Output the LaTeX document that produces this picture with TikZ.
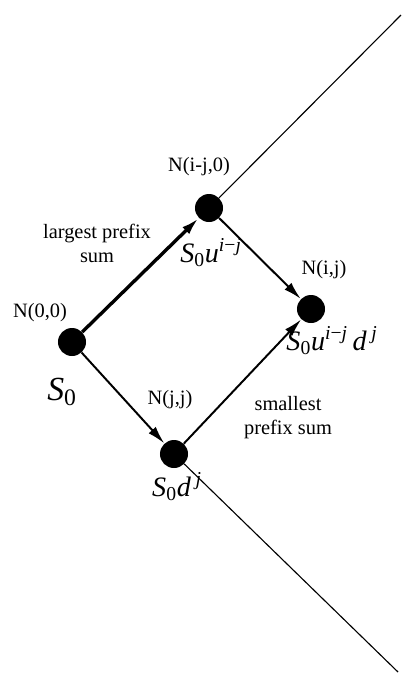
\documentclass[tikz,border=0pt]{standalone}
\usepackage{fontspec}
\setmainfont{Liberation Serif}
\usetikzlibrary{arrows.meta, positioning}

\newcommand{\mvar}[1]{\textit{#1}}

\begin{document}
\begin{tikzpicture}[
    x=0.025cm, y=-0.025cm,
    state/.style={
        circle,
        fill=black,
        minimum size=0.7cm,
        inner sep=0pt
    },
    nlabel/.style={
        font=\fontsize{14.5}{17}\selectfont,
        inner sep=0pt
    },
    vlabel/.style={
        font=\fontsize{20}{24}\selectfont,
        inner sep=0pt
    },
    note/.style={
        font=\fontsize{14.5}{17}\selectfont,
        align=center,
        inner sep=0pt
    },
    arrow/.style={
        -{Latex[length=0.45cm, width=0.24cm]},
        line width=1.4pt
    },
    mainarrow/.style={
        arrow,
        line width=2.4pt
    },
    boundary/.style={
        line width=0.8pt
    }
]
\useasboundingbox (0,0) rectangle (402,679);

% States of the lattice
\node[state] (n00) at (72,342) {};
\node[state] (nu) at (209,208) {};
\node[state] (nij) at (311,309) {};
\node[state] (njj) at (174,454) {};

% Node names
\node[nlabel] (n00name) at (40,313) {N(0,0)};
\node[nlabel] (nuname) at (199,167) {N(i-j,0)};
\node[nlabel] (nijname) at (324,270) {N(i,j)};
\node[nlabel] (njjname) at (170,400) {N(j,j)};

% Prices
\node[vlabel, font=\fontsize{24}{28}\selectfont] (n00val) at (62,392) {\mvar{S}\textsubscript{0}};
\node[vlabel] (nuval) at (211,253) {\mvar{S}\textsubscript{0}\mvar{u}\textsuperscript{\mvar{i}−\mvar{j}}};
\node[vlabel] (nijval) at (332,341) {\mvar{S}\textsubscript{0}\mvar{u}\textsuperscript{\mvar{i}−\mvar{j}}\,\mvar{d}\,\textsuperscript{\mvar{j}}};
\node[vlabel] (njjval) at (177,487) {\mvar{S}\textsubscript{0}\mvar{d}\,\textsuperscript{\mvar{j}}};

% Path notes
\node[note] (largest) at (97,243) {largest prefix\\sum};
\node[note] (smallest) at (288,418) {smallest\\prefix sum};

% Moves
\draw[mainarrow] (n00) -- (nu);
\draw[arrow] (n00) -- (njj);
\draw[arrow] (nu) -- (nij);
\draw[arrow] (njj) -- (nij);

% Boundaries
\coordinate (topend) at (401,15);
\coordinate (botend) at (398,672);
\draw[boundary] (nu) -- (topend);
\draw[boundary] (njj) -- (botend);

\end{tikzpicture}
\end{document}
